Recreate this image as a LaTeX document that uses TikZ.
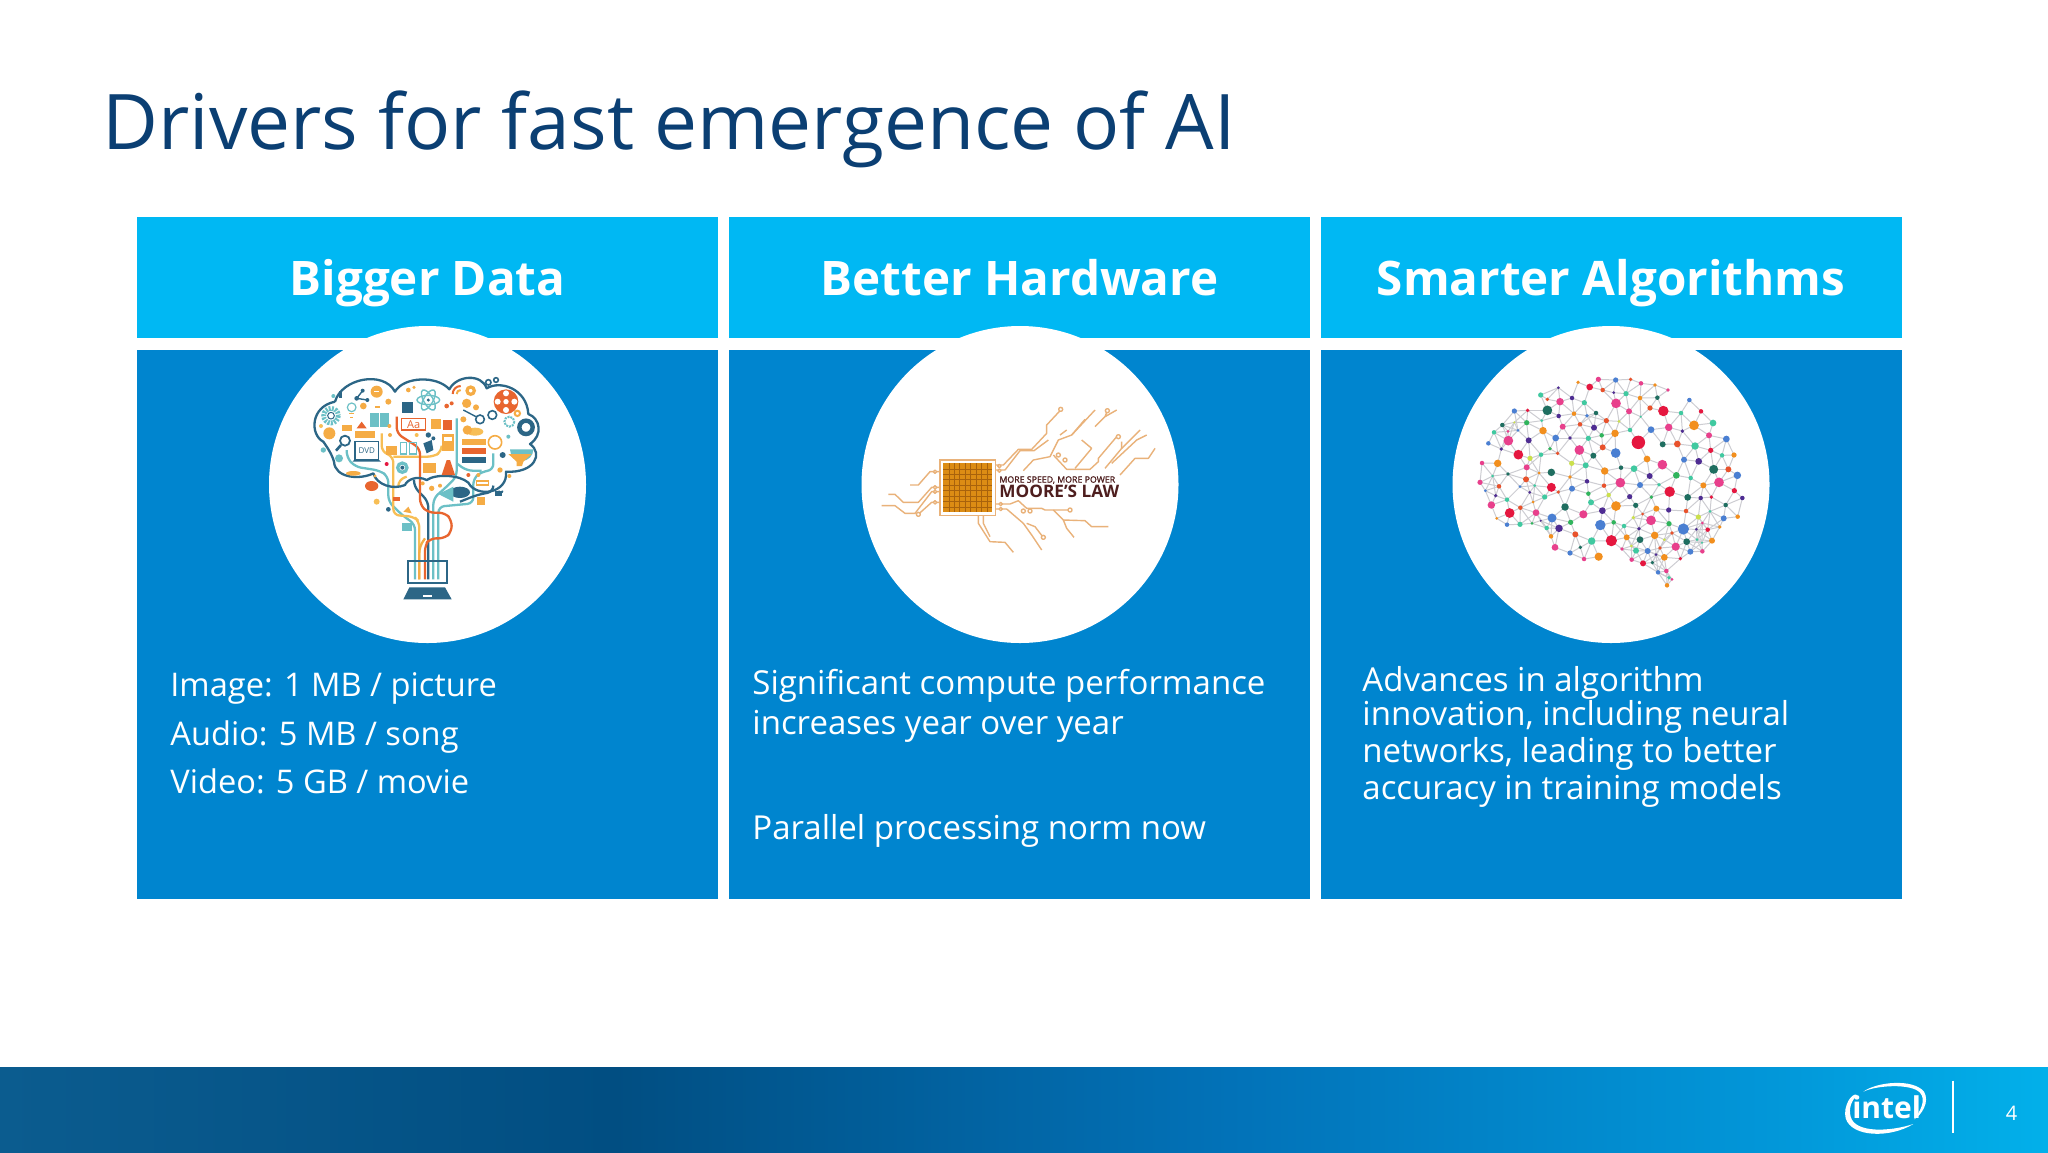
\documentclass[tikz,border=0pt]{standalone}
\usepackage{fontspec}
\setmainfont{Open Sans}
\newfontfamily\heavy[FakeBold=1.4]{Open Sans}
\definecolor{hdrblue}{HTML}{00B8F3}
\definecolor{bodyblue}{HTML}{0085CF}
\definecolor{titleblue}{HTML}{0B3F73}
\definecolor{tTeal}{HTML}{6CC0C6}
\definecolor{tDark}{HTML}{2C6686}
\definecolor{tOr}{HTML}{F5AC45}
\definecolor{tRed}{HTML}{E8652F}
\definecolor{tYel}{HTML}{F7BE55}
\definecolor{trace}{HTML}{E9B27A}
\definecolor{chipfill}{HTML}{DC8C14}
\definecolor{chipline}{HTML}{A8620C}
\definecolor{maroon}{HTML}{4E1E1E}
\definecolor{mesh}{HTML}{CDCDD2}
\definecolor{dP}{HTML}{E8408C}
\definecolor{dR}{HTML}{E5173F}
\definecolor{dO}{HTML}{F28F1E}
\definecolor{dB}{HTML}{4A7FD2}
\definecolor{dU}{HTML}{4E2C92}
\definecolor{dT}{HTML}{1F6E60}
\definecolor{dG}{HTML}{40C9A0}
\definecolor{dH}{HTML}{30B45C}
\definecolor{dL}{HTML}{CBE04C}
\definecolor{dV}{HTML}{E8522C}
\definecolor{ftA}{HTML}{0B5C8F}
\definecolor{ftB}{HTML}{014E82}
\definecolor{ftC}{HTML}{0272B8}
\definecolor{ftD}{HTML}{0296D8}
\definecolor{ftE}{HTML}{02B0EA}
\pgfdeclarehorizontalshading{footshade}{100bp}{
  color(0bp)=(ftA); color(25bp)=(ftA); color(40bp)=(ftB);
  color(55bp)=(ftC); color(68bp)=(ftD); color(75bp)=(ftE); color(100bp)=(ftE)}
\def\brainpts{475/88/7/P,527/90/7/B,572/88/5/V,603/100/6/P,645/105/5/O,684/120/5/P,414/97/5/O,355/113/4/U,449/111/9/R,488/120/6/V,521/128/4/U,558/131/7/G,600/144/6/O,652/143/6/T,748/150/6/B,302/135/7/G,322/148/5/V,360/155/10/P,396/144/6/U,433/158/7/G,528/160/13/P,630/174/7/V,670/183/14/R,783/184/6/R,723/189/6/G,567/184/8/P,468/189/6/T,402/191/6/O,263/181/5/R,223/183/7/B,322/181/13/T,356/198/6/U,441/197/5/B,499/212/7/V,537/214/4/L,602/200/3/G,187/225/6/T,260/218/7/H,223/217/3/L,305/212/4/G,420/223/6/V,368/230/8/P,462/233/8/U,570/240/6/G,633/239/9/B,686/232/10/P,762/226/13/O,819/219/9/G,727/243/5/U,162/247/6/G,204/244/4/P,234/241/4/B,309/242/10/O,525/250/10/O,485/256/6/H,807/256/8/P,859/267/9/B,347/264/9/B,390/264/5/U,445/265/7/G,205/272/13/P,266/271/8/U,595/277/18/R,668/283/8/T,712/282/9/V,765/288/10/G,145/280/6/B,488/292/8/V,184/297/5/U,330/296/5/H,418/300/13/P,527/309/13/B,812/301/7/R,235/314/13/R,353/310/5/V,303/314/6/G,460/317/8/T,846/316/6/G,882/315/7/O,270/325/7/L,621/327/9/O,732/329/8/B,776/334/9/U,126/339/6/P,173/340/10/O,395/340/7/L,437/346/8/G,667/344/13/P,260/352/8/P,543/353/6/T,582/356/9/G,821/358/12/T,865/358/8/V,334/367/10/T,494/363/10/O,204/372/5/T,297/369/4/O,158/378/4/G,709/376/9/H,629/378/8/U,892/376/10/B,390/381/5/O,258/388/8/V,752/384/6/G,441/394/6/U,541/398/13/P,120/397/7/P,790/406/8/O,837/397/13/P,600/405/8/B,657/404/5/G,177/409/6/V,240/410/4/B,284/407/4/G,492/407/6/V,334/412/12/R,396/416/8/B,136/422/4/B,355/426/5/V,883/422/7/R,269/427/4/U,445/431/6/H,689/425/14/R,506/435/6/L,167/437/5/U,569/440/7/U,634/441/5/H,743/442/9/T,782/444/6/U,814/441/5/R,907/444/6/U,314/441/7/G,201/449/6/G,453/457/8/G,279/456/4/O,154/465/10/P,241/473/6/V,375/471/10/T,528/468/13/O,587/466/7/T,649/476/8/O,857/465/6/T,686/480/7/U,738/483/6/V,810/484/4/G,487/482/9/U,209/489/13/R,288/488/9/P,430/493/11/P,608/492/4/V,893/500/6/O,775/501/7/L,170/505/4/O,336/504/12/B,580/503/5/L,851/505/8/B,633/511/13/P,302/512/3/U,201/524/6/B,240/523/7/G,276/520/4/H,392/517/7/H,521/517/6/H,687/521/7/H,787/519/4/P,481/525/14/B,552/528/6/G,320/534/6/G,357/535/10/U,839/531/5/O,597/536/5/U,803/539/6/R,769/538/4/U,730/537/15/B,696/549/5/V,406/553/8/V,644/556/10/O,333/559/6/O,560/562/8/O,600/569/9/T,514/572/15/R,455/573/10/G,673/569/4/L,771/569/4/G,740/575/9/T,816/572/8/O,786/578/3/G,707/590/11/P,345/592/9/P,421/592/5/T,660/594/5/V,574/588/4/L,546/597/5/P,588/602/8/G,623/603/8/B,390/609/7/B,751/605/8/B,787/604/6/P,648/614/4/U,476/620/11/O,432/627/6/P,575/629/6/P,673/622/9/O,721/626/5/R,609/640/8/R,637/638/5/T,679/663/6/P,654/667/6/B,687/683/5/G,696/688/4/P,681/706/6/O}
\tikzset{
  hdrbox/.style={fill=hdrblue,text=white,minimum width=290.5pt,minimum height=60.5pt,inner sep=0pt,
    font=\fontsize{23.8}{28}\selectfont\bfseries,text height=20pt,text depth=2.5pt},
  bodybox/.style={fill=bodyblue,minimum width=290.5pt,minimum height=274.5pt,inner sep=0pt},
  disc/.style={circle,fill=white,minimum size=158.5pt,inner sep=0pt},
  bodytext/.style={anchor=base west,inner sep=0pt,text=white,font=\fontsize{16.5}{18}\selectfont},
  tl/.style={line width=1.15pt,rounded corners=3pt},
  cloudl/.style={draw=tDark,line width=1.15pt,line join=round},
  tr/.style={draw=trace,line width=.7pt,line join=round},
  meshline/.style={draw=mesh,line width=.5pt}
}
\begin{document}
\begin{tikzpicture}[x=0.5pt,y=-0.5pt]
\useasboundingbox (0,0) rectangle (2048,1152);
\fill[white] (0,0) rectangle (2048,1152);
\node[anchor=base west,inner sep=0pt,text=titleblue,font=\fontsize{38.35}{44}\selectfont] (title) at (102,149) {Drivers for fast emergence of AI};
% columns
\node[hdrbox] (h1) at (427.5,277.5) {Bigger Data};
\node[hdrbox] (h2) at (1019.5,277.5) {Better Hardware};
\node[hdrbox] (h3) at (1611,277.5) {Smarter Algorithms};
\node[bodybox] (b1) at (427.5,624.5) {};
\node[bodybox] (b2) at (1019.5,624.5) {};
\node[bodybox] (b3) at (1611,624.5) {};
\node[disc] (c1) at (427.5,484.5) {};
\node[disc] (c2) at (1020,484.5) {};
\node[disc] (c3) at (1611,484.5) {};
% texts
\begin{scope}[every node/.append style={font=\fontsize{16.3}{18}\selectfont}]
\node[bodytext,font=\fontsize{16.3}{18}\selectfont] (t11) at (170,696) {Image: 1 MB / picture};
\node[bodytext,font=\fontsize{16.3}{18}\selectfont] (t12) at (170,745) {Audio: 5 MB / song};
\node[bodytext,font=\fontsize{16.3}{18}\selectfont] (t13) at (170,793) {Video: 5 GB / movie};
\end{scope}
\node[bodytext] (t21) at (752,694) {Significant compute performance};
\node[bodytext] (t22) at (752,734) {increases year over year};
\node[bodytext] (t23) at (752,839) {Parallel processing norm now};
\node[bodytext] (t31) at (1362,691) {Advances in algorithm};
\node[bodytext] (t32) at (1362,725) {innovation, including neural};
\node[bodytext] (t33) at (1362,762) {networks, leading to better};
\node[bodytext] (t34) at (1362,799) {accuracy in training models};
% tree icon
\begin{scope}[shift={(260,320)},x=0.16667pt,y=-0.16667pt]
  % branches
  \draw[tl,tTeal] (465,778)--(465,612)--(432,590)--(385,545)--(385,470)--(360,452)--(285,440)--(260,412)--(260,390);
  \draw[tl,tTeal] (535,778)--(535,560)--(640,550)--(640,475)--(665,455)--(700,450)--(700,400);
  \draw[tl,tTeal] (520,778)--(520,535)--(560,500)--(590,470)--(590,295);
  \draw[tl,tTeal] (590,430)--(620,452)--(665,452);
  \draw[tl,tDark] (505,778)--(505,545)--(462,500)--(462,480);
  \draw[tl,tDark] (600,545)--(650,525)--(700,515)--(700,500);
  \draw[tl,tYel] (478,778)--(478,605)--(462,590)--(400,585)--(400,410)--(365,395)--(365,340);
  \draw[tl,tYel] (400,410)--(520,410)--(545,395)--(545,380);
  \draw[tl,tYel] (415,500)--(415,480)--(440,470);
  \draw[tl,tRed] (495,778)--(495,675)--(510,655)--(555,655)--(575,635)--(575,600)--(555,578)--(505,578)--(480,555)--(480,385)--(410,340)--(410,290);
  \draw[tl,tOr] (478,778)--(478,680)--(495,655);
  % cloud outline
  \draw[cloudl] (225,245) .. controls (245,175) and (370,150) .. (405,215)
     .. controls (430,170) and (530,165) .. (568,208)
     .. controls (590,165) and (665,160) .. (680,205)
     .. controls (720,180) and (800,205) .. (805,282)
     .. controls (840,295) and (850,345) .. (810,372)
     .. controls (850,400) and (825,460) .. (738,455)
     .. controls (745,520) and (650,535) .. (625,488)
     .. controls (600,465) and (530,460) .. (500,480)
     .. controls (470,465) and (440,480) .. (435,495)
     .. controls (400,510) and (350,495) .. (340,460)
     .. controls (300,480) and (225,475) .. (222,425)
     .. controls (215,400) and (200,380) .. (190,365)
     .. controls (150,345) and (150,260) .. (225,245);
  % laptop
  \draw[tDark,line width=1pt] (445,790) -- (445,722) -- (562,722) -- (562,790) -- cycle;
  \fill[tDark] (448,802) -- (555,802) -- (575,838) -- (430,838) -- cycle;
  \fill[white] (488,824) rectangle (516,830);
  % icons
  \draw[tTeal,line width=2.4pt,dash pattern=on 1pt off .6pt] (213,287) circle (22);
  \draw[tDark,line width=.5pt] (213,287) circle (10);
  \draw[tTeal,line width=.6pt] (275,262) circle (13);
  \draw[tOr,line width=.6pt] (268,280) -- (282,280) (270,292) -- (280,292);
  \fill[tOr] (350,215) circle (18);
  \fill[white] (342,212) rectangle (358,216);
  \fill[tDark] (290,235) circle (7) (322,240) circle (6) (308,212) circle (6);
  \draw[tDark,line width=.7pt] (290,235) -- (322,240) (290,235) -- (308,212);
  \draw[tTeal,line width=.7pt] (505,240) ellipse (34 and 14);
  \draw[tTeal,line width=.7pt,rotate around={60:(505,240)}] (505,240) ellipse (34 and 14);
  \draw[tTeal,line width=.7pt,rotate around={-60:(505,240)}] (505,240) ellipse (34 and 14);
  \fill[tDark] (505,240) circle (5);
  \draw[tRed,line width=1pt] (578,222) arc (180:270:24);
  \draw[tOr,line width=1pt] (590,222) arc (180:270:12);
  \draw[tOr,line width=1.6pt] (632,212) circle (11);
  \fill[tOr] (620,250) circle (14) (648,262) circle (9);
  \fill[tRed] (738,245) circle (37);
  \fill[white] (738,220) circle (9) (713,245) circle (9) (763,245) circle (9) (738,270) circle (9) (738,245) circle (8);
  \draw[tOr,line width=1pt] (772,280) circle (8);
  \draw[tDark,line width=.8pt] (685,187) circle (8) (708,180) circle (7);
  \draw[tDark,line width=.8pt] (660,298) circle (13) (697,285) circle (13);
  \draw[tDark,line width=.7pt] (610,270) -- (648,290);
  \draw[tTeal,line width=1pt,dash pattern=on 1pt off .5pt] (748,305) circle (15);
  \draw[tDark,line width=2.2pt] (798,322) circle (20);
  \fill[tTeal] (750,388) arc (180:0:35) -- cycle;
  \fill[tOr] (745,402) -- (815,402) -- (790,425) -- (786,438) -- (770,438) -- (770,425) -- cycle;
  \draw[tOr,line width=.8pt] (705,367) circle (20);
  \fill[tOr] (605,358) rectangle (678,376);
  \fill[tRed] (605,385) rectangle (678,403);
  \fill[tDark] (605,412) rectangle (678,430);
  \fill[tYel] (645,335) ellipse (25 and 12);
  \fill[tOr] (622,330) circle (14);
  \fill[tTeal] (330,280) rectangle (388,320);
  \fill[white] (358,280) rectangle (360,320);
  \fill[tDark] (425,247) rectangle (460,280);
  \draw[tRed,line width=.6pt,fill=white] (425,295) rectangle (497,330);
  \node[text=tRed,inner sep=0pt,font=\fontsize{5.5}{6}\selectfont] (aa) at (461,313) {Aa};
  \fill[tOr] (512,296) rectangle (542,326);
  \fill[tRed] (549,300) rectangle (575,330);
  \fill[tOr] (545,342) rectangle (582,392);
  \fill[white] (552,350) rectangle (575,362);
  \fill[tOr] (285,333) rectangle (345,353);
  \draw[tDark,line width=.8pt] (285,365) rectangle (355,418);
  \fill[tDark] (277,425) -- (363,425) -- (355,418) -- (285,418) -- cycle;
  \node[text=tDark,inner sep=0pt,font=\fontsize{4}{5}\selectfont] (dvd) at (320,391) {DVD};
  \draw[tDark,line width=.9pt] (255,362) circle (15);
  \draw[tDark,line width=1.3pt] (243,375) -- (228,392);
  \fill[tRed] (305,305) -- (320,325) -- (290,325) -- cycle;
  \fill[tOr] (245,315) rectangle (275,332);
  \fill[tOr] (208,340) circle (18);
  \fill[tYel] (183,318) circle (6);
  \fill[tOr] (378,378) rectangle (412,405);
  \draw[tTeal,line width=.8pt] (422,368) rectangle (440,402) (448,368) rectangle (470,402);
  \fill[tDark] (490,370) -- (515,360) -- (520,390) -- (500,400) -- cycle;
  \fill[tOr] (488,428) rectangle (528,458);
  \fill[tRed] (545,465) -- (585,465) -- (570,420) -- (560,420) -- cycle;
  \draw[tTeal,line width=1.6pt] (427,443) circle (14);
  \fill[tDark] (427,443) circle (6);
  \fill[tRed] (335,498) ellipse (20 and 15);
  \fill[tDark] (600,517) ellipse (30 and 17);
  \fill[tTeal] (535,522) -- (580,500) -- (580,545) -- cycle;
  \draw[tDark,line width=.8pt] (716,512) arc (180:0:6);
  \fill[tDark] (705,512) rectangle (727,528);
  \fill[tOr] (650,530) rectangle (676,556);
  \draw[tOr,line width=.7pt] (650,483) rectangle (685,495);
  \fill[tOr] (720,450) circle (8) (748,468) circle (6);
  \fill[tOr] (280,460) ellipse (22 and 7);
  \fill[dR] (380,432) circle (6);
  \fill[tTeal] (425,610) rectangle (455,632);
  \fill[tOr] (430,575) -- (445,560) -- (455,580) -- cycle;
  \fill[tYel] (350,545) circle (9);
  \fill[tDark] (385,568) circle (7);
  \fill[tRed] (400,530) rectangle (420,542);
  \fill[tTeal] (237,415) circle (12);
  \fill[tTeal] (190,390) circle (8);
  \fill[tDark] (238,212) rectangle (245,235);
  \fill[tTeal] (220,228) circle (6);
  \fill[tOr] (310,258) circle (10);
  \fill[tOr] (345,258) rectangle (360,265);
  \fill[tOr] (385,245) circle (9);
  \fill[tOr] (445,210) circle (7) (462,202) circle (5);
  \fill[tDark] (728,405) circle (9);
  \fill[tOr] (515,505) circle (8) (540,497) circle (6) (488,490) circle (6);
  \fill[tRed] (560,258) circle (7) (575,250) circle (6);
  \fill[tOr] (255,372) circle (0) (388,318) circle (6) (390,345) circle (6);
  \fill[tYel] (470,345) circle (6);
  \fill[tDark] (505,345) circle (8) (520,355) circle (6);
  \fill[tOr] (610,298) circle (9);
  \fill[tTeal] (745,350) circle (6);
  \fill[tOr] (655,465) circle (6);
  \fill[tRed] (625,465) circle (6);
  \fill[tOr] (345,468) circle (5) (290,420) circle (0);
\end{scope}
% moore icon
\begin{scope}[shift={(850,380)},x=0.16667pt,y=-0.16667pt]
  \draw[tr] (437,255)--(460,255)--(505,208)--(545,208)--(590,160)--(590,135)--(632,90);
  \draw[tr] (437,270)--(465,270)--(510,212)--(552,212)--(595,180);
  \draw[tr] (520,272)--(550,240)--(600,230)--(625,180)--(665,165)--(735,90);
  \draw[tr] (630,165)--(650,150) (665,165)--(705,118);
  \draw[tr] (610,225)--(650,268)--(720,268)--(745,245)--(745,235)--(800,170);
  \draw[tr] (675,265)--(725,205)--(695,180);
  \draw[tr] (735,140)--(765,110)--(772,92) (765,110)--(800,90);
  \draw[tr] (765,265)--(815,205)--(815,185);
  \draw[tr] (785,250)--(860,180)--(890,165);
  \draw[tr] (815,205)--(870,150);
  \draw[tr] (810,285)--(855,235)--(895,235)--(915,205);
  \draw[tr] (270,275)--(240,275)--(205,315)--(180,315);
  \draw[tr] (270,322)--(245,322)--(205,367)--(160,367)--(135,343)--(115,343);
  \draw[tr] (270,335)--(245,335)--(195,400)--(165,400)--(135,377)--(95,377);
  \draw[tr] (270,367)--(245,367)--(207,401);
  \draw[tr] (437,372)--(480,372)--(505,362)--(530,385)--(575,385)--(585,390)--(655,390);
  \draw[tr] (437,387)--(470,387)--(520,430)--(545,465)--(575,510);
  \draw[tr] (530,430)--(555,440)--(578,470);
  \draw[tr] (610,390)--(640,420)--(705,422)--(725,440)--(775,440);
  \draw[tr] (640,420)--(650,445)--(672,472);
  \draw[tr] (385,407)--(385,430)--(420,485)--(465,487)--(490,517);
  \draw[tr] (400,407)--(400,430)--(420,470);
  \draw[tr,fill=white] (632,88) circle (6) (772,92) circle (6) (805,170) circle (6) (625,225) circle (6) (645,240) circle (6)
     (205,403) circle (6) (660,390) circle (6) (520,393) circle (6) (540,393) circle (6) (580,472) circle (6)
     (448,258) circle (5) (448,272) circle (5) (452,372) circle (5) (452,387) circle (5) (255,275) circle (5) (255,322) circle (5) (255,335) circle (5) (255,367) circle (5);
  \draw[draw=trace,line width=.7pt,fill=white] (270,240) rectangle (437,407);
  \fill[chipfill] (280,250) rectangle (427,397);
  \foreach \k in {1,...,8} {
    \draw[chipline,line width=.2pt] (280+\k*16.33,250) -- (280+\k*16.33,397);
    \draw[chipline,line width=.2pt] (280,250+\k*16.33) -- (427,250+\k*16.33);
  }
  \node[anchor=base west,inner sep=0pt,text=maroon,font=\fontsize{4.4}{5}\heavy] (ms) at (447,308) {MORE SPEED, MORE POWER};
  \node[anchor=base west,inner sep=0pt,text=maroon,font=\fontsize{8.6}{9}\selectfont\bfseries] (ml) at (447,351) {MOORE'S LAW};
\end{scope}
% brain icon
\begin{scope}[shift={(1440,350)},x=0.16667pt,y=-0.16667pt]
  \foreach \xa/\ya/\ra/\ca in \brainpts {
    \foreach \xb/\yb/\rb/\cb in \brainpts {
      \ifnum\numexpr\xa-\xb\relax<0
        \ifnum\numexpr(\xa-\xb)*(\xa-\xb)+(\ya-\yb)*(\ya-\yb)\relax<3600
          \draw[meshline] (\xa,\ya) -- (\xb,\yb);
        \fi
      \fi
    }
  }
  \foreach \xa/\ya/\ra/\ca in \brainpts {
    \fill[d\ca] (\xa,\ya) circle ({\ra*1.12});
  }
\end{scope}
% footer
\shade[shading=footshade] (0,1067) rectangle (2048,1152);
\begin{scope}[shift={(1780,1050)},x=0.16667pt,y=-0.16667pt]
  \fill[white] (400,222) .. controls (330,265) and (215,262) .. (197,205)
     .. controls (188,170) and (215,125) .. (232,135)
     .. controls (215,150) and (205,175) .. (212,200)
     .. controls (225,250) and (330,245) .. (400,222) -- cycle;
  \fill[white] (250,125) .. controls (290,95) and (400,85) .. (432,125)
     .. controls (450,155) and (425,195) .. (402,208)
     .. controls (420,185) and (440,150) .. (420,128)
     .. controls (395,100) and (290,105) .. (250,125) -- cycle;
  \node[text=white,inner sep=0pt,anchor=base,font=\fontsize{15}{16}\selectfont\bfseries] (il) at (320,205) {intel};
  \coordinate (d1) at (518,92);
  \coordinate (d2) at (518,250);
  \draw[white,line width=.8pt] (d1) -- (d2);
  \node[text=white,inner sep=0pt,font=\fontsize{10}{11}\selectfont] (pg) at (695,190) {4};
\end{scope}
\end{tikzpicture}
\end{document}
